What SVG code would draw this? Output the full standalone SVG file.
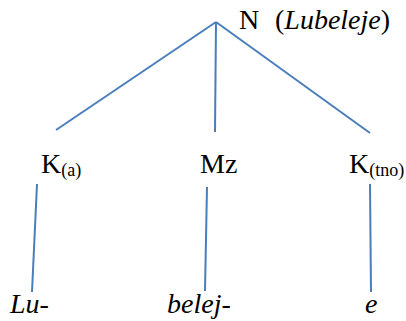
<svg xmlns="http://www.w3.org/2000/svg" width="406" height="321" viewBox="0 0 406 321">
<style>
.c line{stroke:#4a7ebb;stroke-width:2;stroke-linecap:butt}
text{font-family:'Liberation Serif','Times New Roman','DejaVu Serif',serif;font-size:28px;fill:#000}
.i{font-style:italic}
.s{font-size:18px}
</style>
<rect width="406" height="321" fill="#fff"/>
<g class="c" id="connectors">
<line x1="216" y1="22" x2="56" y2="130"/>
<line x1="216" y1="22" x2="215" y2="132"/>
<line x1="216" y1="22" x2="370" y2="133"/>
<line x1="37" y1="184" x2="32" y2="292"/>
<line x1="207" y1="187" x2="205" y2="291"/>
<line x1="370" y1="184" x2="371" y2="292"/>
</g>
<g id="N"><text x="239" y="29">N</text><text x="275" y="29">(<tspan class="i">Lubeleje</tspan>)</text></g>
<g id="Ka"><text x="41" y="173">K<tspan class="s" dy="3">(a)</tspan></text></g>
<g id="Mz"><text x="200" y="173">Mz</text></g>
<g id="Ktno"><text x="349" y="173">K<tspan class="s" dy="3">(tno)</tspan></text></g>
<g id="Lu"><text class="i" x="10" y="313">Lu-</text></g>
<g id="belej"><text class="i" x="167" y="313">belej-</text></g>
<g id="e"><text class="i" x="365" y="313">e</text></g>
</svg>
